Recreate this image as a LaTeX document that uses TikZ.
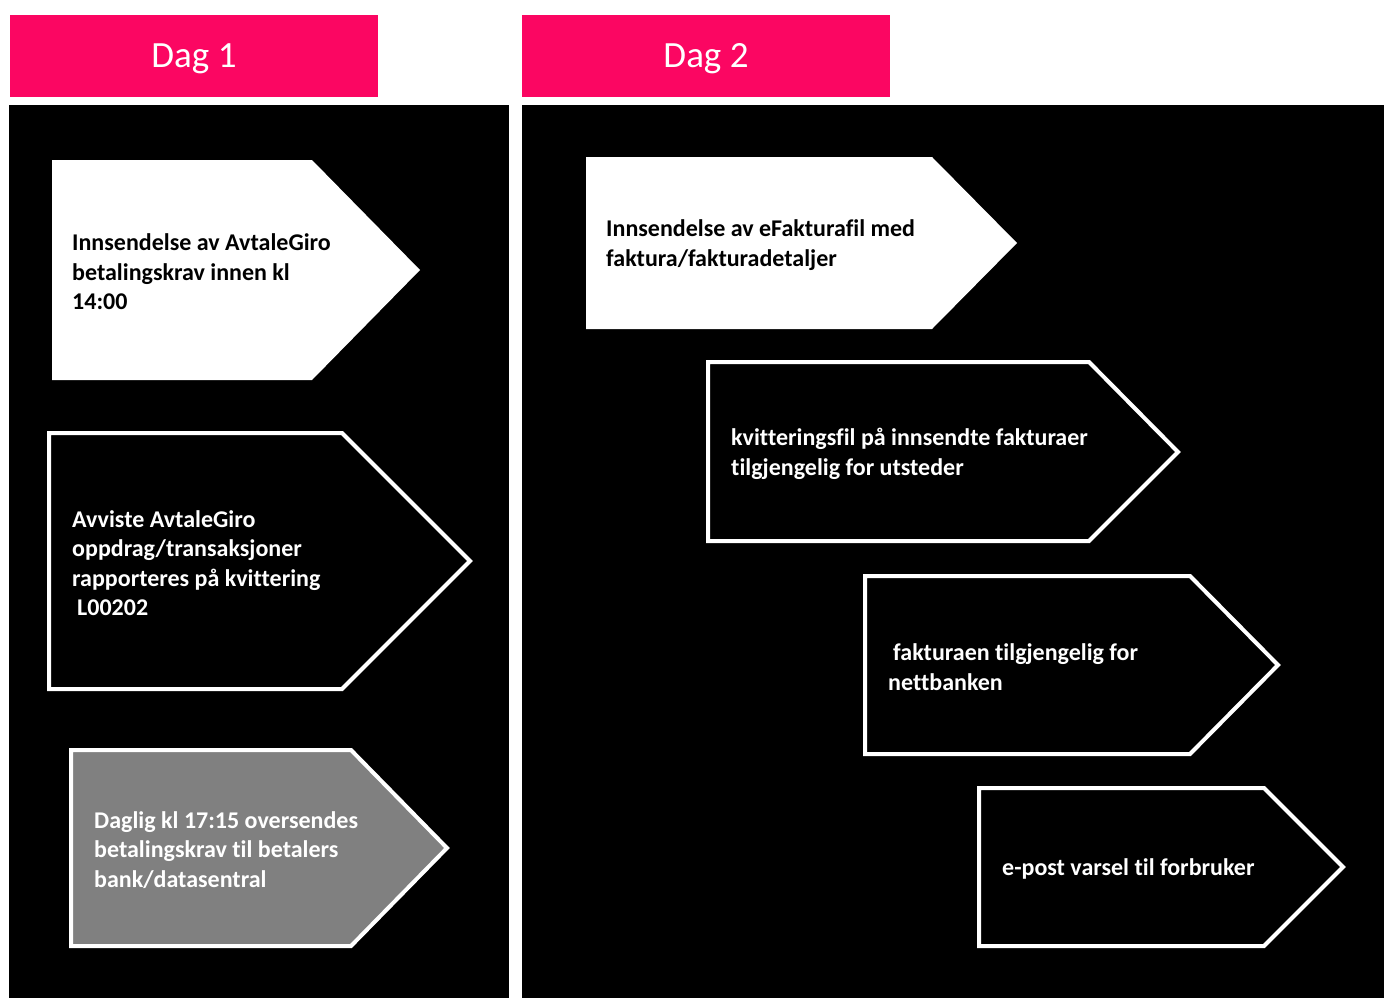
\documentclass[tikz,border=0pt]{standalone}
\usepackage{fontspec}
\setmainfont{Carlito}[Ligatures=NoCommon]
\usepackage{xcolor}
\usepackage{tikz}

\definecolor{dagpink}{HTML}{FB0662}
\definecolor{sendgray}{HTML}{808080}

\tikzset{
  daghead/.style={fill=dagpink, draw=none},
  dagtitle/.style={text=white, font=\fontsize{37}{44}\selectfont},
  panel/.style={fill=black, draw=none},
  stepwhite/.style={fill=white, draw=none},
  stepdark/.style={fill=black, draw=white, line width=4pt},
  stepgray/.style={fill=sendgray, draw=white, line width=4pt},
  steptext/.style={anchor=west, align=left, inner sep=0pt, font=\bfseries\fontsize{24}{29.5}\selectfont}
}

\begin{document}
\begin{tikzpicture}[x=1pt, y=-1pt]
\useasboundingbox (0, 0) rectangle (1384, 998);

% headers
\fill[daghead] (10, 15) rectangle (378, 97);
\fill[daghead] (522, 15) rectangle (890, 97);
\node[dagtitle] (dag1) at (194, 59) {Dag 1};
\node[dagtitle] (dag2) at (706, 59) {Dag 2};

% panels
\fill[panel] (9, 105) rectangle (509, 998);
\fill[panel] (522, 105) rectangle (1384, 998);

% day 1
\filldraw[stepwhite] (52, 160) -- (312, 160) -- (420, 270) -- (312, 380) -- (52, 380) -- cycle;
\filldraw[stepdark] (49, 433) -- (342, 433) -- (470, 561) -- (342, 689) -- (49, 689) -- cycle;
\filldraw[stepgray] (71, 750) -- (351, 750) -- (447, 848) -- (351, 946) -- (71, 946) -- cycle;

\node[steptext, text=black] (innsendelse) at (72, 272) {Innsendelse av AvtaleGiro\\betalingskrav innen kl\\14:00};
\node[steptext, text=white] (avviste) at (72, 563) {Avviste AvtaleGiro\\oppdrag/transaksjoner\\rapporteres på kvittering\\\hspace*{5pt}L00202};
\node[steptext, text=white] (oversendes) at (94, 850) {Daglig kl 17:15 oversendes\\betalingskrav til betalers\\bank/datasentral};

% day 2
\filldraw[stepwhite] (586, 157) -- (932, 157) -- (1017, 243) -- (932, 329) -- (586, 329) -- cycle;
\filldraw[stepdark] (708, 362) -- (1089, 362) -- (1178, 452) -- (1089, 541) -- (708, 541) -- cycle;
\filldraw[stepdark] (865, 576) -- (1190, 576) -- (1278, 665) -- (1190, 754) -- (865, 754) -- cycle;
\filldraw[stepdark] (979, 788) -- (1264, 788) -- (1343, 867) -- (1264, 946) -- (979, 946) -- cycle;

\node[steptext, text=black] (efaktura) at (606, 245) {Innsendelse av eFakturafil med\\faktura/fakturadetaljer};
\node[steptext, text=white] (kvittering) at (731, 454) {kvitteringsfil på innsendte fakturaer\\tilgjengelig for utsteder};
\node[steptext, text=white] (nettbank) at (888, 667) {\hspace*{5pt}fakturaen tilgjengelig for\\nettbanken};
\node[steptext, text=white] (varsel) at (1002, 869) {e-post varsel til forbruker};
\end{tikzpicture}
\end{document}
